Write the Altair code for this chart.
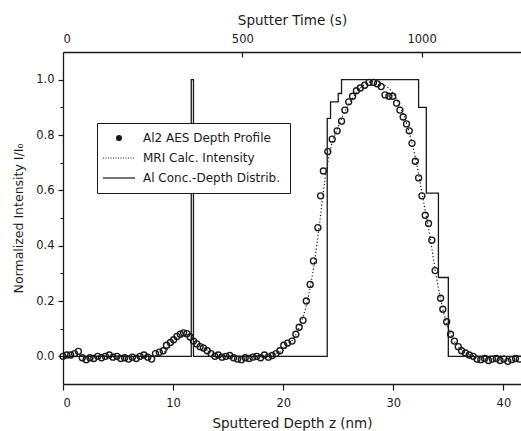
import altair as alt
import pandas as pd

# ---------------- data ----------------
# Al2 AES depth profile (open circles): sputtered depth (nm) and normalized intensity
depth_nm = [0.0, 0.35, 0.7, 1.05, 1.4, 1.75, 2.1, 2.45, 2.8, 3.15, 3.5, 3.85, 4.2, 4.55,
            4.9, 5.25, 5.6, 5.95, 6.3, 6.65, 7.0, 7.35, 7.7, 8.05, 8.4, 8.75, 9.1, 9.4,
            9.75, 10.05, 10.35, 10.65, 10.95, 11.25, 11.55, 11.85, 12.15, 12.45, 12.75,
            13.1, 13.45, 13.8, 14.1, 14.45, 14.8, 15.15, 15.5, 15.85, 16.2, 16.55, 16.9,
            17.25, 17.6, 17.95, 18.3, 18.65, 19.0, 19.35, 19.7, 20.05, 20.4, 20.8, 21.15,
            21.45, 21.8, 22.1, 22.45, 22.75, 23.15, 23.4, 23.65, 24.05, 24.45, 24.9, 25.3,
            25.6, 25.95, 26.3, 26.65, 27.0, 27.4, 27.8, 28.2, 28.55, 28.9, 29.25, 29.6,
            29.95, 30.3, 30.6, 30.9, 31.2, 31.45, 31.7, 32.0, 32.3, 32.6, 32.9, 33.2, 33.5,
            33.8, 34.3, 34.5, 34.85, 35.2, 35.55, 35.9, 36.2, 36.55, 36.9, 37.25, 37.6,
            37.95, 38.3, 38.65, 39.0, 39.35, 39.7, 40.05, 40.4, 40.75, 41.1, 41.45]
aes_intensity = [0.0, 0.005, 0.005, 0.01, 0.018, -0.005, -0.012, -0.005, -0.008, 0.0, -0.005,
                 0.0, 0.005, -0.003, 0.0, -0.008, -0.005, -0.01, -0.003, -0.008, 0.0, 0.005,
                 -0.003, -0.01, 0.01, 0.015, 0.02, 0.04, 0.05, 0.06, 0.072, 0.08, 0.085,
                 0.082, 0.07, 0.055, 0.045, 0.035, 0.03, 0.02, 0.01, 0.0, 0.005, -0.003, 0.0,
                 0.003, -0.005, -0.01, -0.012, -0.005, -0.008, -0.003, 0.0, -0.005, 0.005,
                 -0.003, 0.003, 0.01, 0.02, 0.04, 0.048, 0.055, 0.08, 0.105, 0.13, 0.2, 0.26,
                 0.345, 0.465, 0.58, 0.67, 0.74, 0.785, 0.815, 0.85, 0.89, 0.92, 0.94, 0.96,
                 0.97, 0.98, 0.99, 0.99, 0.985, 0.975, 0.945, 0.94, 0.94, 0.915, 0.89, 0.865,
                 0.84, 0.815, 0.77, 0.705, 0.645, 0.58, 0.51, 0.48, 0.42, 0.31, 0.21, 0.17,
                 0.125, 0.08, 0.055, 0.035, 0.02, 0.012, 0.005, 0.0, -0.01, -0.012, -0.008,
                 -0.015, -0.01, -0.008, -0.015, -0.01, -0.018, -0.012, -0.008, -0.01]

# MRI calculated intensity (dotted curve)
mri_depth = [0.0, 8.5, 9.5, 10.5, 11.3, 12.0, 13.0, 14.0, 15.0, 18.0, 19.5, 20.5, 21.5,
             22.2, 22.8, 23.3, 23.8, 24.3, 25.0, 25.8, 26.6, 27.5, 28.3, 29.0, 29.8, 30.6,
             31.3, 32.0, 32.7, 33.3, 33.9, 34.5, 35.1, 35.8, 36.6, 37.5, 41.6]
mri_intensity = [0.0, 0.003, 0.025, 0.065, 0.08, 0.06, 0.025, 0.008, 0.002, 0.002, 0.012,
                 0.04, 0.11, 0.2, 0.33, 0.48, 0.64, 0.75, 0.83, 0.9, 0.95, 0.985, 0.995,
                 0.985, 0.96, 0.905, 0.83, 0.72, 0.57, 0.44, 0.29, 0.17, 0.09, 0.04, 0.012,
                 0.002, 0.0]

# Al concentration-depth distribution (solid step line, value holds until next depth)
conc_depth = [0.0, 11.65, 11.85, 24.0, 24.3, 25.0, 25.3, 32.3, 33.0, 34.1, 35.0, 41.6]
conc_value = [0.0, 1.0, 0.0, 0.86, 0.92, 0.95, 1.0, 0.9, 0.59, 0.285, 0.0, 0.0]

series_names = ["Al2 AES Depth Profile", "MRI Calc. Intensity", "Al Conc.-Depth Distrib."]

x_ticks = [0, 10, 20, 30, 40]
y_ticks = [0.0, 0.2, 0.4, 0.6, 0.8, 1.0]
y_minor_ticks = [0.1, 0.3, 0.5, 0.7, 0.9]
time_ticks = [0, 500, 1000]
time_inner_ticks = [500, 1000]

X_MAX = 41.6                # nm at right edge
SPUTTER_S_PER_NM = 30.7     # top axis conversion (s per nm)

# ---------------- styling ----------------
FONT = "DejaVu Sans"
INK = "#1a1a1a"

# legend glyphs (stroked paths): bullet drawn as concentric rings, dotted and solid rules
BULLET_PATH = ("M0.5,0A0.5,0.5,0,1,1,-0.5,0A0.5,0.5,0,1,1,0.5,0Z"
               "M0.3,0A0.3,0.3,0,1,1,-0.3,0A0.3,0.3,0,1,1,0.3,0Z"
               "M0.1,0A0.1,0.1,0,1,1,-0.1,0A0.1,0.1,0,1,1,0.1,0Z")
DOTTED_PATH = ("M-3.2,0h0.2M-2.7,0h0.2M-2.2,0h0.2M-1.7,0h0.2M-1.2,0h0.2M-0.7,0h0.2"
               "M-0.2,0h0.2M0.3,0h0.2M0.8,0h0.2M1.3,0h0.2M1.8,0h0.2M2.3,0h0.2M2.8,0h0.2")
SOLID_PATH = "M-3.2,0L3.2,0"

aes = pd.DataFrame({"z": depth_nm, "I": aes_intensity})
mri = pd.DataFrame({"z": mri_depth, "I": mri_intensity})
conc = pd.DataFrame({"z": conc_depth, "c": conc_value})
leg = pd.DataFrame({"series": series_names})

xs = alt.Scale(domain=[0, X_MAX], nice=False, zero=False)
ys = alt.Scale(domain=[-0.1, 1.1], nice=False, zero=False)
ts = alt.Scale(domain=[0, X_MAX * SPUTTER_S_PER_NM], nice=False, zero=False)

circles = alt.Chart(aes).mark_point(
    shape="circle", filled=False, size=36, strokeWidth=1.35, color=INK, opacity=1
).encode(
    x=alt.X("z:Q", scale=xs, axis=alt.Axis(
        orient="bottom", values=x_ticks, format="d", title="Sputtered Depth z (nm)",
        tickSize=6, tickWidth=1.2, labelPadding=7, titlePadding=8, domainWidth=1.3,
        labelFontSize=11.5, titleFontSize=13.5)),
    y=alt.Y("I:Q", scale=ys, axis=alt.Axis(
        orient="left", values=y_ticks, format=".1f", title="Normalized Intensity I/I\u2080",
        tickSize=5, tickWidth=1.2, labelPadding=4, titlePadding=10, domainWidth=1.3,
        labelFontSize=11.5, titleFontSize=12.5)),
)

mri_line = alt.Chart(mri).mark_line(
    color=INK, strokeWidth=1.2, strokeDash=[1.2, 2.2], interpolate="monotone"
).encode(
    x=alt.X("z:Q", scale=xs, axis=None),
    y=alt.Y("I:Q", scale=ys, axis=None),
)

conc_line = alt.Chart(conc).mark_line(
    color=INK, strokeWidth=1.3, interpolate="step-after"
).encode(
    x=alt.X("z:Q", scale=xs, axis=None),
    y=alt.Y("c:Q", scale=ys, axis=None),
)

legend_layer = alt.Chart(leg).mark_point(opacity=0, filled=False, color=INK).encode(
    shape=alt.Shape("series:N", sort=series_names,
                    scale=alt.Scale(domain=series_names,
                                    range=[BULLET_PATH, DOTTED_PATH, SOLID_PATH]),
                    legend=alt.Legend(
                        title=None, orient="none", legendX=34, legendY=71,
                        padding=9, strokeColor=INK, fillColor="white",
                        symbolSize=100, symbolStrokeWidth=1.2, symbolOpacity=1,
                        symbolFillColor="transparent", symbolStrokeColor=INK,
                        symbolOffset=7, labelOffset=18, rowPadding=8,
                        labelFont=FONT, labelFontSize=12, labelColor=INK)),
)

y_minor = alt.Chart(aes).mark_point(opacity=0).encode(
    y=alt.Y("I:Q", scale=ys, axis=alt.Axis(
        orient="left", values=y_minor_ticks, labels=False, domain=False, title=None,
        tickSize=3, tickWidth=1.1)),
)

top_axis = alt.Chart(aes).transform_calculate(
    t=f"datum.z * {SPUTTER_S_PER_NM}"
).mark_point(opacity=0).encode(
    x=alt.X("t:Q", scale=ts, axis=alt.Axis(
        orient="top", values=time_ticks, format="d", title="Sputter Time (s)",
        ticks=False, labelPadding=8, titlePadding=6, domainWidth=1.3,
        labelFontSize=11.5, titleFontSize=13.5)),
)

top_inner_ticks = alt.Chart(aes).transform_calculate(
    t=f"datum.z * {SPUTTER_S_PER_NM}"
).mark_point(opacity=0).encode(
    x=alt.X("t:Q", scale=ts, axis=alt.Axis(
        orient="top", values=time_inner_ticks, labels=False, domain=False, title=None,
        tickSize=5, tickWidth=1.2, offset=-5)),
)

chart = alt.layer(
    conc_line, mri_line, circles, legend_layer, y_minor, top_axis, top_inner_ticks
).resolve_scale(
    x="independent", y="independent"
).resolve_axis(
    x="independent", y="independent"
).properties(
    width=458, height=332,
    autosize=alt.AutoSizeParams(type="none"),
    padding={"left": 63, "top": 52, "right": 0, "bottom": 47},
    background="white",
).configure_view(
    stroke=None
).configure_axis(
    grid=False, labelFont=FONT, titleFont=FONT, labelColor=INK, titleColor=INK,
    domainColor=INK, tickColor=INK, titleFontWeight="normal",
)

chart.save("out.html", embed_options={"renderer": "svg", "actions": False})
